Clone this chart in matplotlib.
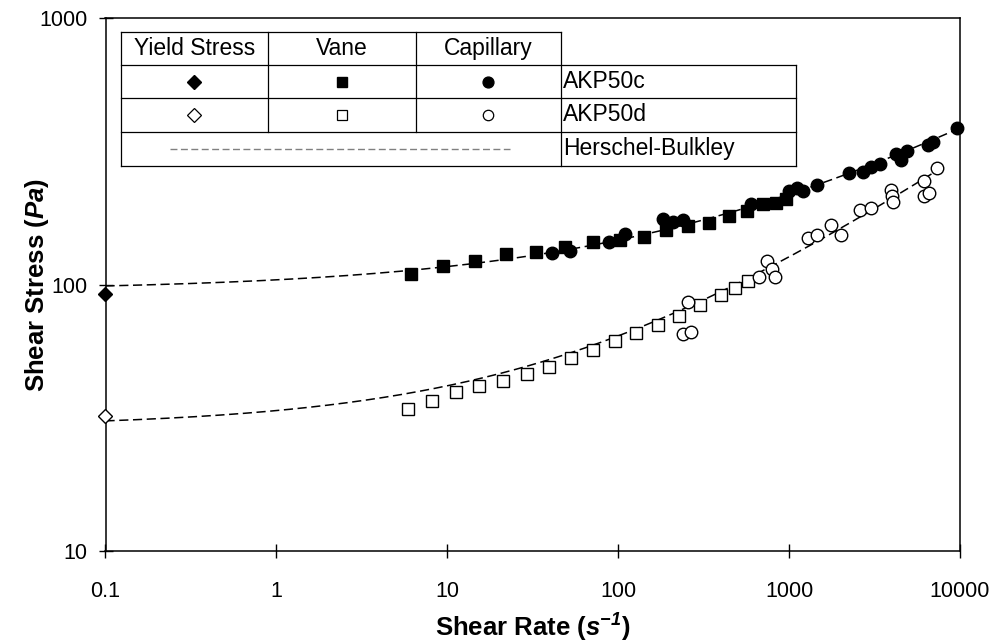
import numpy as np
import matplotlib
matplotlib.use('Agg')
import matplotlib.pyplot as plt

plt.rcParams['font.family'] = ['Liberation Sans', 'DejaVu Sans']
plt.rcParams['mathtext.fontset'] = 'custom'
plt.rcParams['mathtext.rm'] = 'Liberation Sans'
plt.rcParams['mathtext.it'] = 'Liberation Sans:italic'
plt.rcParams['mathtext.bf'] = 'Liberation Sans:bold'
plt.rcParams['mathtext.bfit'] = 'Liberation Sans:italic:bold'

# AKP50c (filled markers)
yield_c_rate = [0.1]
yield_c_stress = [92]
vane_c_rate = [6.13, 9.44, 14.5, 22.0, 33.0, 48.8, 71.2, 102, 142, 190, 256,
               340, 445, 567, 704, 838, 959]
vane_c_stress = [110, 118, 123, 130, 133, 139, 144, 147, 151, 161, 166,
                 171, 181, 189, 201, 203, 210]
cap_c_rate = [41.0, 52.2, 88.4, 110, 183, 209, 239, 598, 999, 1113, 1206,
              1457, 2241, 2706, 3015, 3404, 4222, 4517, 4897, 6500, 6950, 9600]
cap_c_stress = [131, 134, 145, 155, 177, 172, 175, 201, 225, 231, 225,
                237, 263, 265, 277, 284, 310, 294, 318, 335, 343, 388]

# AKP50d (open markers)
yield_d_rate = [0.1]
yield_d_stress = [32.2]
vane_d_rate = [5.89, 8.14, 11.2, 15.3, 21.2, 29.3, 39.4, 52.9, 71.2, 95.8,
               127, 171, 227, 301, 400, 482, 575]
vane_d_stress = [34.2, 36.6, 39.6, 41.7, 43.6, 46.3, 49.2, 53.1, 56.9, 61.5,
                 65.9, 70.7, 76.4, 84.0, 91.6, 97.3, 103]
cap_d_rate = [256, 239, 267, 666, 742, 794, 827, 1290, 1457, 1759, 2013,
              2600, 3015, 3946, 4000, 4055, 6156, 6156, 6586, 7337]
cap_d_stress = [86.2, 65.4, 66.5, 107, 123, 114, 107, 150, 154, 168, 154,
                191, 194, 227, 215, 205, 245, 215, 221, 274]

# Herschel-Bulkley fits: tau = tau0 + K * rate^n
hb_c = dict(tau0=95.0, K=9.25, n=0.375, rate_max=10000)
hb_d = dict(tau0=29.2, K=4.47, n=0.447, rate_max=7500)

xticks = [0.1, 1, 10, 100, 1000, 10000]
xtick_labels = ['0.1', '1', '10', '100', '1000', '10000']
yticks = [10, 100, 1000]
ytick_labels = ['10', '100', '1000']

fig = plt.figure(figsize=(9.98, 6.43), dpi=100)
ax = fig.add_axes([105.5 / 998, 1 - 551 / 643, 854.5 / 998, 532.7 / 643])
ax.set_xscale('log')
ax.set_yscale('log')
ax.set_xlim(0.1, 10000)
ax.set_ylim(10, 1000)

dash = (0, (6, 3))
for hb in (hb_c, hb_d):
    g = np.logspace(-1, np.log10(hb['rate_max']), 300)
    ax.plot(g, hb['tau0'] + hb['K'] * g ** hb['n'], color='black', lw=1.1,
            linestyle=dash, zorder=2, clip_on=False)

filled = dict(color='black', linestyle='none', zorder=3, clip_on=False)
ax.plot(yield_c_rate, yield_c_stress, marker='D', ms=7, **filled)
ax.plot(vane_c_rate, vane_c_stress, marker='s', ms=8.3, **filled)
ax.plot(cap_c_rate, cap_c_stress, marker='o', ms=9, **filled)

hollow = dict(mfc='white', mec='black', mew=1.0, linestyle='none', zorder=3,
              clip_on=False)
ax.plot(yield_d_rate, yield_d_stress, marker='D', ms=7, **hollow)
ax.plot(vane_d_rate, vane_d_stress, marker='s', ms=8.3, **hollow)
ax.plot(cap_d_rate, cap_d_stress, marker='o', ms=9, **hollow)

ax.set_xticks(xticks)
ax.set_xticklabels(xtick_labels)
ax.set_yticks(yticks)
ax.set_yticklabels(ytick_labels)
ax.minorticks_off()
ax.tick_params(axis='both', direction='inout', length=9.5, width=1.0,
               labelsize=15.5)
ax.tick_params(axis='x', pad=16.5)
ax.tick_params(axis='y', pad=8)
for sp in ax.spines.values():
    sp.set_linewidth(1.1)

ax.set_xlabel(r'$\mathbf{Shear\ Rate\ (}\mathbfit{s}^{\mathbfit{-1}}\mathbf{)}$',
              fontsize=18.5, va='center')
ax.xaxis.set_label_coords(0.5, -0.145)
ax.set_ylabel(r'$\mathbf{Shear\ Stress\ (}\mathbfit{Pa}\mathbf{)}$',
              fontsize=18.5, va='center')
ax.yaxis.set_label_coords(-0.08, 0.5)

# legend table, laid out in pixel units of the figure
lx0, lx1, ly0, ly1 = 121, 796, 31.5, 165.5
lg = fig.add_axes([lx0 / 998, 1 - ly1 / 643, (lx1 - lx0) / 998, (ly1 - ly0) / 643])
lg.set_xlim(lx0, lx1)
lg.set_ylim(ly1, ly0)
lg.axis('off')
col = [121, 268, 416, 561, 796]
row = [31.5, 65, 98, 131.5, 165.5]
k = dict(color='black', lw=0.9, clip_on=False)
lg.plot([col[0], col[3]], [row[0], row[0]], **k)
for r in row[1:]:
    lg.plot([col[0], col[4]], [r, r], **k)
for c in col[:4]:
    lg.plot([c, c], [row[0], row[3] if c in (268, 416) else row[4]], **k)
lg.plot([col[4], col[4]], [row[1], row[4]], **k)

heads = ['Yield Stress', 'Vane', 'Capillary']
marks = ['D', 's', 'o']
sizes = [7, 7.3, 7.8]
for i in range(3):
    cx = (col[i] + col[i + 1]) / 2
    lg.text(cx, (row[0] + row[1]) / 2, heads[i], ha='center', va='center',
            fontsize=16.5)
    lg.plot([cx], [(row[1] + row[2]) / 2], marker=marks[i], ms=sizes[i],
            color='black', linestyle='none')
    lg.plot([cx], [(row[2] + row[3]) / 2], marker=marks[i], ms=sizes[i] - 0.3,
            mfc='white', mec='black', mew=0.9, linestyle='none')
lg.plot([170, 510], [(row[3] + row[4]) / 2] * 2, color='#808080', lw=1.0,
        linestyle=(0, (5, 2.5)))
for j, name in enumerate(['AKP50c', 'AKP50d', 'Herschel-Bulkley']):
    lg.text(col[3] + 2, (row[j + 1] + row[j + 2]) / 2, name, ha='left',
            va='center', fontsize=16.5)

fig.savefig('out.png', dpi=100)
